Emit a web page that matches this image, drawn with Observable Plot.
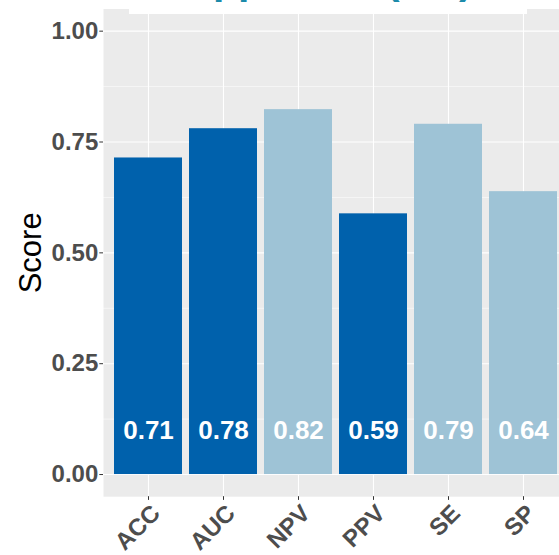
<!DOCTYPE html>
<html>
<head>
<meta charset="utf-8">
<script src="https://cdn.jsdelivr.net/npm/d3@7"></script>
<script src="https://cdn.jsdelivr.net/npm/@observablehq/plot@0.6"></script>
<style>
  html, body { margin: 0; padding: 0; background: white; overflow: hidden; }
  #wrap { position: relative; width: 559px; height: 555px; overflow: hidden; font-family: "Liberation Sans", Arial, sans-serif; }
  #chart svg { max-width: none !important; }
  #titlebox { position: absolute; left: 129px; top: 0; width: 398px; height: 13.5px; background: white; overflow: hidden; z-index: 2; }
  #title { position: absolute; left: 0; width: 398px; top: -40.2px; text-align: center; white-space: nowrap;
           font: bold 41px/41px "Liberation Sans", Arial, sans-serif; color: #1C8BAA; }
</style>
</head>
<body>
<div id="wrap">
  <div id="titlebox"><div id="title">Approach (ML)</div></div>
  <div id="chart"></div>
</div>
<script>
const categories = ["ACC", "AUC", "NPV", "PPV", "SE", "SP"];
const scores = [0.714, 0.780, 0.823, 0.588, 0.790, 0.638];
const valueLabels = ["0.71", "0.78", "0.82", "0.59", "0.79", "0.64"];
const groups = ["primary", "primary", "secondary", "primary", "secondary", "secondary"];
const groupColors = ["#0061AC", "#9EC3D6"];
const yTicks = [0, 0.25, 0.5, 0.75, 1];
const yMinor = [0.125, 0.375, 0.625, 0.875];
const labelY = 0.1;
const yTitle = "Score";

const data = categories.map((c, i) => ({cat: c, score: scores[i], label: valueLabels[i], group: groups[i]}));

const chart = Plot.plot({
  width: 568,
  height: 555,
  marginLeft: 103,
  marginRight: 0,
  marginTop: 8.5,
  marginBottom: 58.8,
  style: {fontFamily: "'Liberation Sans', Arial, sans-serif", background: "transparent", maxWidth: "none"},
  x: {domain: categories, paddingInner: 0.1, paddingOuter: 0.15, label: null},
  y: {domain: [-0.05, 1.05], label: null},
  color: {domain: ["primary", "secondary"], range: groupColors},
  marks: [
    Plot.frame({fill: "#EBEBEB", stroke: null}),
    Plot.ruleY(yMinor, {y: d => d, stroke: "white", strokeWidth: 0.55}),
    Plot.ruleY(yTicks, {y: d => d, stroke: "white", strokeWidth: 1.1}),
    Plot.ruleX(categories, {x: d => d, stroke: "white", strokeWidth: 1.1}),
    Plot.barY(data, {x: "cat", y: "score", fill: "group"}),
    Plot.text(data, {x: "cat", y: () => labelY, text: "label", fill: "white", fontSize: 26, fontWeight: "bold"}),
    Plot.axisY(yTicks, {tickSize: 3.7, tickPadding: 1.5, tickFormat: d3.format(".2f"),
      fontSize: 24, fontWeight: "bold", fill: "#4D4D4D", stroke: "#333333", label: null}),
    Plot.axisX({tickSize: 3.7, tickFormat: () => "", stroke: "#333333", label: null}),
    Plot.text(categories, {x: d => d, frameAnchor: "bottom", text: d => d, rotate: -45,
      textAnchor: "end", lineAnchor: "top", dx: 1, dy: 6,
      fontSize: 24, fontWeight: "bold", fill: "#4D4D4D"}),
    Plot.text([yTitle], {frameAnchor: "left", text: d => d, rotate: -90, dx: -63, textAnchor: "middle",
      lineAnchor: "bottom", fontSize: 31, fill: "black"})
  ]
});
document.getElementById("chart").appendChild(chart);
</script>
</body>
</html>
